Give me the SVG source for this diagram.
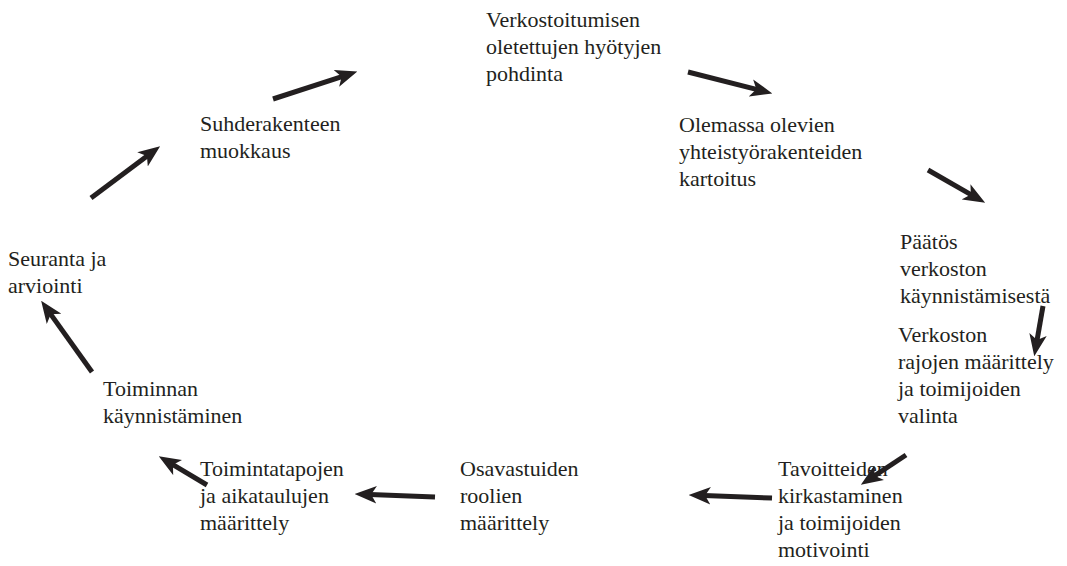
<svg xmlns="http://www.w3.org/2000/svg" width="1067" height="566" viewBox="0 0 1067 566">
<defs>
<marker id="ah" markerUnits="userSpaceOnUse" markerWidth="22" markerHeight="18" viewBox="0 0 20 16" refX="6" refY="8" orient="auto">
<path d="M0,0 L20,8 L0,16 L5,8 z" fill="#231f20"/>
</marker>
</defs>
<rect width="1067" height="566" fill="#fff"/>
<g id="connectors" stroke="#231f20" stroke-width="5" marker-end="url(#ah)">
<line x1="273" y1="99" x2="342.7" y2="76.3"/>
<line x1="688" y1="72" x2="757.4" y2="89.6"/>
<line x1="928" y1="170" x2="971.8" y2="195.1"/>
<line x1="1043" y1="306" x2="1036.9" y2="341.1"/>
<line x1="906" y1="455" x2="873.7" y2="476.3"/>
<line x1="772" y1="498" x2="704" y2="495.5"/>
<line x1="435" y1="497" x2="370" y2="494.5"/>
<line x1="207" y1="485" x2="172" y2="464.2"/>
<line x1="92" y1="372" x2="50.1" y2="313.4"/>
<line x1="91" y1="198" x2="147.8" y2="155.4"/>
</g>
<g id="n1"><text x="486" y="27" font-family="Liberation Serif" font-size="22" fill="#231f20">Verkostoitumisen</text><text x="486" y="54" font-family="Liberation Serif" font-size="22" fill="#231f20">oletettujen hyötyjen</text><text x="486" y="81" font-family="Liberation Serif" font-size="22" fill="#231f20">pohdinta</text></g>
<g id="n2"><text x="679" y="132" font-family="Liberation Serif" font-size="22" fill="#231f20">Olemassa olevien</text><text x="679" y="159" font-family="Liberation Serif" font-size="22" fill="#231f20">yhteistyörakenteiden</text><text x="679" y="186" font-family="Liberation Serif" font-size="22" fill="#231f20">kartoitus</text></g>
<g id="n3"><text x="900" y="249" font-family="Liberation Serif" font-size="22" fill="#231f20">Päätös</text><text x="900" y="276" font-family="Liberation Serif" font-size="22" fill="#231f20">verkoston</text><text x="900" y="303" font-family="Liberation Serif" font-size="22" fill="#231f20">käynnistämisestä</text></g>
<g id="n4"><text x="898" y="342" font-family="Liberation Serif" font-size="22" fill="#231f20">Verkoston</text><text x="898" y="369" font-family="Liberation Serif" font-size="22" fill="#231f20">rajojen määrittely</text><text x="898" y="396" font-family="Liberation Serif" font-size="22" fill="#231f20">ja toimijoiden</text><text x="898" y="423" font-family="Liberation Serif" font-size="22" fill="#231f20">valinta</text></g>
<g id="n5"><text x="778" y="476" font-family="Liberation Serif" font-size="22" fill="#231f20">Tavoitteiden</text><text x="778" y="503" font-family="Liberation Serif" font-size="22" fill="#231f20">kirkastaminen</text><text x="778" y="530" font-family="Liberation Serif" font-size="22" fill="#231f20">ja toimijoiden</text><text x="778" y="557" font-family="Liberation Serif" font-size="22" fill="#231f20">motivointi</text></g>
<g id="n6"><text x="460" y="476" font-family="Liberation Serif" font-size="22" fill="#231f20">Osavastuiden</text><text x="460" y="503" font-family="Liberation Serif" font-size="22" fill="#231f20">roolien</text><text x="460" y="530" font-family="Liberation Serif" font-size="22" fill="#231f20">määrittely</text></g>
<g id="n7"><text x="200" y="476" font-family="Liberation Serif" font-size="22" fill="#231f20">Toimintatapojen</text><text x="200" y="503" font-family="Liberation Serif" font-size="22" fill="#231f20">ja aikataulujen</text><text x="200" y="530" font-family="Liberation Serif" font-size="22" fill="#231f20">määrittely</text></g>
<g id="n8"><text x="103" y="396" font-family="Liberation Serif" font-size="22" fill="#231f20">Toiminnan</text><text x="103" y="423" font-family="Liberation Serif" font-size="22" fill="#231f20">käynnistäminen</text></g>
<g id="n9"><text x="8" y="266" font-family="Liberation Serif" font-size="22" fill="#231f20">Seuranta ja</text><text x="8" y="293" font-family="Liberation Serif" font-size="22" fill="#231f20">arviointi</text></g>
<g id="n10"><text x="200" y="131" font-family="Liberation Serif" font-size="22" fill="#231f20">Suhderakenteen</text><text x="200" y="158" font-family="Liberation Serif" font-size="22" fill="#231f20">muokkaus</text></g>
</svg>
